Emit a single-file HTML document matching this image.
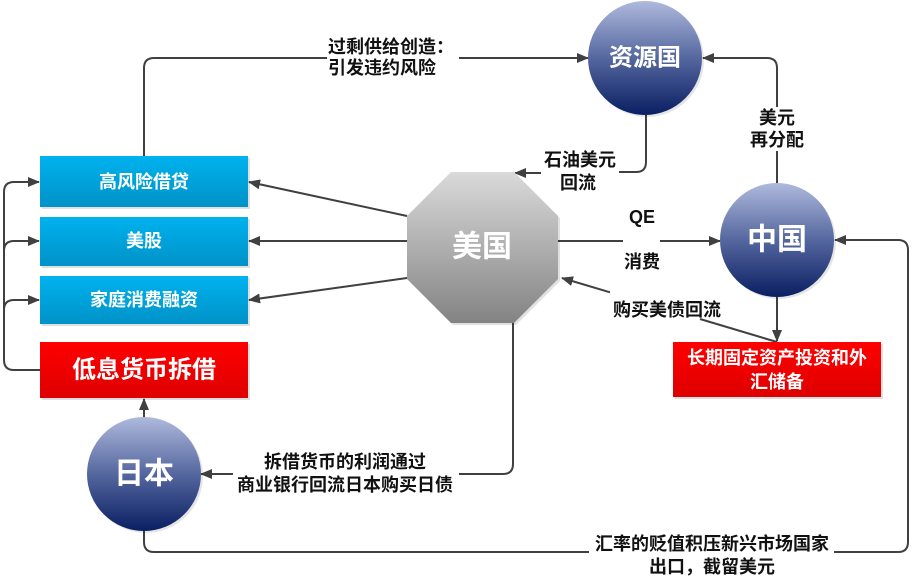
<!DOCTYPE html>
<html><head><meta charset="utf-8">
<style>
html,body{margin:0;padding:0;background:#fff;}
svg{display:block;}
text{font-family:"Liberation Sans","Noto Sans CJK SC",sans-serif;font-weight:700;}
.lbl{font-size:18px;fill:#111;}
.w{fill:#fff;}
</style></head>
<body>
<svg width="912" height="581" viewBox="0 0 912 581" xmlns="http://www.w3.org/2000/svg">
<defs>
  <marker id="ah" markerUnits="userSpaceOnUse" markerWidth="12" markerHeight="10" refX="11" refY="5" orient="auto">
    <path d="M0,0 L12,5 L0,10 Z" fill="#404040"/>
  </marker>
  <linearGradient id="gBlue" x1="0" y1="0" x2="0" y2="1">
    <stop offset="0" stop-color="#00b2ee"/>
    <stop offset="1" stop-color="#0092c8"/>
  </linearGradient>
  <linearGradient id="gRed" x1="0" y1="0" x2="0" y2="1">
    <stop offset="0" stop-color="#ff0000"/>
    <stop offset="1" stop-color="#de0000"/>
  </linearGradient>
  <linearGradient id="gCirc" x1="0" y1="0" x2="0" y2="1">
    <stop offset="0" stop-color="#aeb9dc"/>
    <stop offset="0.5" stop-color="#55679f"/>
    <stop offset="1" stop-color="#0a1f62"/>
  </linearGradient>
  <linearGradient id="gOct" x1="0" y1="0" x2="0" y2="1">
    <stop offset="0" stop-color="#dadada"/>
    <stop offset="1" stop-color="#838383"/>
  </linearGradient>
</defs>

<g fill="none" stroke="#404040" stroke-width="2">
  <!-- left bracket -->
  <path d="M40,370 H14 Q4,370 4,360 V192 Q4,182 14,182 H39" marker-end="url(#ah)"/>
  <path d="M4,251 Q4,241 14,241 H39" marker-end="url(#ah)"/>
  <path d="M4,310 Q4,300 14,300 H39" marker-end="url(#ah)"/>
  <!-- top: high-risk loan to resource country -->
  <path d="M144,156 V68 Q144,58 154,58 H327"/>
  <path d="M459,58 H588" marker-end="url(#ah)"/>
  <!-- china to resource country -->
  <path d="M777,183 V151"/>
  <path d="M777,107 V68 Q777,58 767,58 H703" marker-end="url(#ah)"/>
  <!-- resource country to USA -->
  <path d="M646,115 V162 Q646,172 636,172 H619"/>
  <path d="M541,173 H515" marker-end="url(#ah)"/>
  <!-- octagon to boxes -->
  <path d="M407,216 L249,182" marker-end="url(#ah)"/>
  <path d="M407,241 L249,241" marker-end="url(#ah)"/>
  <path d="M407,278 L249,300" marker-end="url(#ah)"/>
  <!-- QE -->
  <path d="M558,241 H623"/>
  <path d="M660,241 H720" marker-end="url(#ah)"/>
  <!-- buy bonds back -->
  <path d="M610,292.3 L562,278" marker-end="url(#ah)"/>
  <path d="M700,319 L777,342"/>
  <!-- china down -->
  <path d="M777,296 V341" marker-end="url(#ah)"/>
  <!-- bottom loop -->
  <path d="M144,531 V542 Q144,552 154,552 H589"/>
  <path d="M834,552 H898 Q908,552 908,542 V250 Q908,240 898,240 H835" marker-end="url(#ah)"/>
  <!-- USA to Japan -->
  <path d="M513,323 V464 Q513,474 503,474 H459"/>
  <path d="M233,474 H201" marker-end="url(#ah)"/>
  <!-- Japan up -->
  <path d="M144,418 V399" marker-end="url(#ah)"/>
</g>

<!-- boxes -->
<g>
  <rect x="42" y="158" width="208" height="51" fill="#000" opacity="0.12"/>
  <rect x="40" y="156" width="208" height="51" fill="url(#gBlue)"/>
  <rect x="42" y="219" width="208" height="49" fill="#000" opacity="0.12"/>
  <rect x="40" y="217" width="208" height="49" fill="url(#gBlue)"/>
  <rect x="42" y="278" width="208" height="48" fill="#000" opacity="0.12"/>
  <rect x="40" y="276" width="208" height="48" fill="url(#gBlue)"/>
  <rect x="42" y="344" width="208" height="56" fill="#000" opacity="0.12"/>
  <rect x="40" y="342" width="208" height="56" fill="url(#gRed)"/>
  <rect x="675" y="344" width="208" height="55" fill="#000" opacity="0.12"/>
  <rect x="673" y="342" width="208" height="55" fill="url(#gRed)"/>
</g>
<text class="w" x="144" y="182" font-size="18" text-anchor="middle" dominant-baseline="central">高风险借贷</text>
<text class="w" x="144" y="241" font-size="18" text-anchor="middle" dominant-baseline="central">美股</text>
<text class="w" x="144" y="300" font-size="18" text-anchor="middle" dominant-baseline="central">家庭消费融资</text>
<text class="w" x="144" y="370" font-size="24" text-anchor="middle" dominant-baseline="central">低息货币拆借</text>
<text class="w" x="777" y="358" font-size="18" text-anchor="middle" dominant-baseline="central">长期固定资产投资和外</text>
<text class="w" x="777" y="382" font-size="18" text-anchor="middle" dominant-baseline="central">汇储备</text>

<!-- octagon -->
<polygon points="453,174 516,174 560,218 560,281 516,325 453,325 409,281 409,218" fill="#000" opacity="0.12"/>
<polygon points="451,172 514,172 558,216 558,279 514,323 451,323 407,279 407,216" fill="url(#gOct)"/>
<text class="w" x="482" y="247" font-size="30" text-anchor="middle" dominant-baseline="central">美国</text>

<!-- circles -->
<circle cx="647" cy="60" r="57" fill="#000" opacity="0.1"/>
<circle cx="645" cy="58" r="57" fill="url(#gCirc)"/>
<text class="w" x="645" y="58" font-size="24" text-anchor="middle" dominant-baseline="central">资源国</text>
<circle cx="779" cy="242" r="57" fill="#000" opacity="0.1"/>
<circle cx="777" cy="240" r="57" fill="url(#gCirc)"/>
<text class="w" x="777" y="240" font-size="30" text-anchor="middle" dominant-baseline="central">中国</text>
<circle cx="146" cy="476" r="57" fill="#000" opacity="0.1"/>
<circle cx="144" cy="474" r="57" fill="url(#gCirc)"/>
<text class="w" x="144" y="474" font-size="30" text-anchor="middle" dominant-baseline="central">日本</text>

<!-- labels -->
<text class="lbl" x="328" y="47" dominant-baseline="central">过剩供给创造：</text>
<text class="lbl" x="328" y="68" dominant-baseline="central">引发违约风险</text>
<text class="lbl" x="777" y="118" text-anchor="middle" dominant-baseline="central">美元</text>
<text class="lbl" x="777" y="140" text-anchor="middle" dominant-baseline="central">再分配</text>
<text class="lbl" x="580" y="160" text-anchor="middle" dominant-baseline="central">石油美元</text>
<text class="lbl" x="578" y="183" text-anchor="middle" dominant-baseline="central">回流</text>
<text class="lbl" x="642" y="217" text-anchor="middle" dominant-baseline="central">QE</text>
<text class="lbl" x="642" y="262" text-anchor="middle" dominant-baseline="central">消费</text>
<text class="lbl" x="667" y="310" text-anchor="middle" dominant-baseline="central">购买美债回流</text>
<text class="lbl" x="345" y="462" text-anchor="middle" dominant-baseline="central">拆借货币的利润通过</text>
<text class="lbl" x="345" y="485" text-anchor="middle" dominant-baseline="central">商业银行回流日本购买日债</text>
<text class="lbl" x="712" y="544" text-anchor="middle" dominant-baseline="central">汇率的贬值积压新兴市场国家</text>
<text class="lbl" x="712" y="567" text-anchor="middle" dominant-baseline="central">出口，截留美元</text>
</svg>
</body></html>
